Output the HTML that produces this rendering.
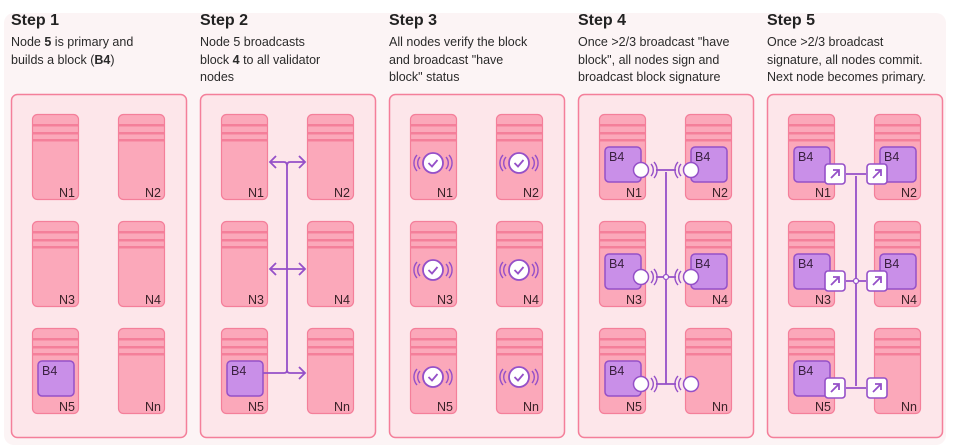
<!DOCTYPE html>
<html><head><meta charset="utf-8"><style>
html,body{margin:0;padding:0;background:#fff;}
svg{display:block;font-family:"Liberation Sans",sans-serif;}
.h{font-size:16px;font-weight:bold;fill:#222;}
.t{font-size:12.5px;fill:#2a2a2a;}
.n{font-size:12.5px;fill:#3a2228;}
.b{font-size:12.5px;fill:#3a2040;}
</style></head><body>
<svg width="957" height="448" viewBox="0 0 957 448">
<defs>
<g id="nd">
<rect x="0.5" y="0.5" width="46" height="85" rx="5" fill="#fba8ba" stroke="#f47f9a" stroke-width="1.2"/>
<rect x="1" y="10" width="45" height="2.5" fill="#f47f9a"/>
<rect x="1" y="18" width="45" height="2.5" fill="#f47f9a"/>
<rect x="1" y="25" width="45" height="2.5" fill="#f47f9a"/>
</g>
<g id="pn">
<rect x="0.5" y="0.5" width="175" height="343" rx="6" fill="#fde6ea" stroke="#f47f9a" stroke-width="1.5"/>
<use href="#nd" x="21" y="20"/><use href="#nd" x="107" y="20"/>
<use href="#nd" x="21" y="127"/><use href="#nd" x="107" y="127"/>
<use href="#nd" x="21" y="234"/><use href="#nd" x="107" y="234"/>
</g>
<rect id="bx" x="0" y="0" width="36" height="35" rx="4" fill="#c98fe8" stroke="#9550c8" stroke-width="1.5"/>
<g id="chk">
<circle cx="0" cy="0" r="10" fill="#fff" stroke="#9550c8" stroke-width="1.8"/>
<path d="M-4.5,0 L-1,3.5 L4.5,-3" fill="none" stroke="#9550c8" stroke-width="1.8"/>
<path d="M-13,-6 A9,9 0 0 0 -13,6 M-16,-8 A12,12 0 0 0 -16,8 M13,-6 A9,9 0 0 1 13,6 M16,-8 A12,12 0 0 1 16,8" fill="none" stroke="#9550c8" stroke-width="1.4"/>
</g>
<g id="cl">
<circle cx="0" cy="0" r="7.5" fill="#fff" stroke="#9550c8" stroke-width="1.5"/>
<path d="M10,-6 A9,9 0 0 1 10,6 M13,-8 A12,12 0 0 1 13,8" fill="none" stroke="#9550c8" stroke-width="1.4"/>
</g>
<g id="cr">
<circle cx="0" cy="0" r="7.5" fill="#fff" stroke="#9550c8" stroke-width="1.5"/>
<path d="M-10,-6 A9,9 0 0 0 -10,6 M-13,-8 A12,12 0 0 0 -13,8" fill="none" stroke="#9550c8" stroke-width="1.4"/>
</g>
<g id="sg">
<rect x="-10" y="-10" width="20" height="20" rx="3" fill="#fff" stroke="#9550c8" stroke-width="1.6"/>
<path d="M-4,4 L4,-4 M-2,-4 L4,-4 L4,2" fill="none" stroke="#9550c8" stroke-width="1.8"/>
</g>
</defs>
<rect x="4" y="13" width="942" height="432" rx="10" fill="#fcf4f5"/>

<text class="h" x="11" y="25">Step 1</text>
<text class="t" x="11" y="46">Node <tspan font-weight="bold">5</tspan> is primary and</text>
<text class="t" x="11" y="64">builds a block (<tspan font-weight="bold">B4</tspan>)</text>
<text class="h" x="200" y="25">Step 2</text>
<text class="t" x="200" y="46">Node 5 broadcasts</text>
<text class="t" x="200" y="64">block <tspan font-weight="bold">4</tspan> to all validator</text>
<text class="t" x="200" y="81">nodes</text>
<text class="h" x="389" y="25">Step 3</text>
<text class="t" x="389" y="46">All nodes verify the block</text>
<text class="t" x="389" y="64">and broadcast "have</text>
<text class="t" x="389" y="81">block" status</text>
<text class="h" x="578" y="25">Step 4</text>
<text class="t" x="578" y="46">Once &gt;2/3 broadcast "have</text>
<text class="t" x="578" y="64">block", all nodes sign and</text>
<text class="t" x="578" y="81">broadcast block signature</text>
<text class="h" x="767" y="25">Step 5</text>
<text class="t" x="767" y="46">Once &gt;2/3 broadcast</text>
<text class="t" x="767" y="64">signature, all nodes commit.</text>
<text class="t" x="767" y="81">Next node becomes primary.</text>

<use href="#pn" x="11" y="94"/>
<use href="#pn" x="200" y="94"/>
<use href="#pn" x="389" y="94"/>
<use href="#pn" x="578" y="94"/>
<use href="#pn" x="767" y="94"/>

<g class="n" text-anchor="end">
<text x="75" y="197">N1</text><text x="161" y="197">N2</text><text x="75" y="304">N3</text><text x="161" y="304">N4</text><text x="75" y="411">N5</text><text x="161" y="411">Nn</text>
<text x="264" y="197">N1</text><text x="350" y="197">N2</text><text x="264" y="304">N3</text><text x="350" y="304">N4</text><text x="264" y="411">N5</text><text x="350" y="411">Nn</text>
<text x="453" y="197">N1</text><text x="539" y="197">N2</text><text x="453" y="304">N3</text><text x="539" y="304">N4</text><text x="453" y="411">N5</text><text x="539" y="411">Nn</text>
<text x="642" y="197">N1</text><text x="728" y="197">N2</text><text x="642" y="304">N3</text><text x="728" y="304">N4</text><text x="642" y="411">N5</text><text x="728" y="411">Nn</text>
<text x="831" y="197">N1</text><text x="917" y="197">N2</text><text x="831" y="304">N3</text><text x="917" y="304">N4</text><text x="831" y="411">N5</text><text x="917" y="411">Nn</text>
</g>

<use href="#bx" x="38" y="361"/><text class="b" x="42" y="375">B4</text>

<use href="#bx" x="227" y="361"/><text class="b" x="231" y="375">B4</text>
<g fill="none" stroke="#9550c8" stroke-width="1.8">
<path d="M287,166 V370 Q287,373 284,373 H263 M287,370 Q287,373 290,373 H305 M299,367 L305,373 L299,379"/>
<path d="M270,162 H284 Q287,162 287,166 Q287,162 290,162 H305 M276,156 L270,162 L276,168 M299,156 L305,162 L299,168"/>
<path d="M270,269 H305 M276,263 L270,269 L276,275 M299,263 L305,269 L299,275"/>
</g>

<use href="#chk" x="433" y="163"/><use href="#chk" x="519" y="163"/>
<use href="#chk" x="433" y="270"/><use href="#chk" x="519" y="270"/>
<use href="#chk" x="433" y="377"/><use href="#chk" x="519" y="377"/>

<g class="b">
<use href="#bx" x="605" y="147"/><text x="609" y="161">B4</text>
<use href="#bx" x="691" y="147"/><text x="695" y="161">B4</text>
<use href="#bx" x="605" y="254"/><text x="609" y="268">B4</text>
<use href="#bx" x="691" y="254"/><text x="695" y="268">B4</text>
<use href="#bx" x="605" y="361"/><text x="609" y="375">B4</text>
</g>
<g fill="none" stroke="#9550c8" stroke-width="1.8">
<path d="M666,172 V384 M656,170 H676 M656,277 H676 M656,384 H676"/>
</g>
<circle cx="666" cy="277" r="2.5" fill="#fff" stroke="#9550c8" stroke-width="1.2"/>
<use href="#cl" x="641" y="170"/><use href="#cr" x="691" y="170"/>
<use href="#cl" x="641" y="277"/><use href="#cr" x="691" y="277"/>
<use href="#cl" x="641" y="384"/><use href="#cr" x="691" y="384"/>

<g class="b">
<use href="#bx" x="794" y="147"/><text x="798" y="161">B4</text>
<use href="#bx" x="880" y="147"/><text x="884" y="161">B4</text>
<use href="#bx" x="794" y="254"/><text x="798" y="268">B4</text>
<use href="#bx" x="880" y="254"/><text x="884" y="268">B4</text>
<use href="#bx" x="794" y="361"/><text x="798" y="375">B4</text>
</g>
<g fill="none" stroke="#9550c8" stroke-width="1.8">
<path d="M856,176 V386 M846,174 H866 M846,281 H866 M846,388 H866"/>
</g>
<circle cx="856" cy="281" r="2.5" fill="#fff" stroke="#9550c8" stroke-width="1.2"/>
<use href="#sg" x="835" y="174"/><use href="#sg" x="877" y="174"/>
<use href="#sg" x="835" y="281"/><use href="#sg" x="877" y="281"/>
<use href="#sg" x="835" y="388"/><use href="#sg" x="877" y="388"/>
</svg>
</body></html>
